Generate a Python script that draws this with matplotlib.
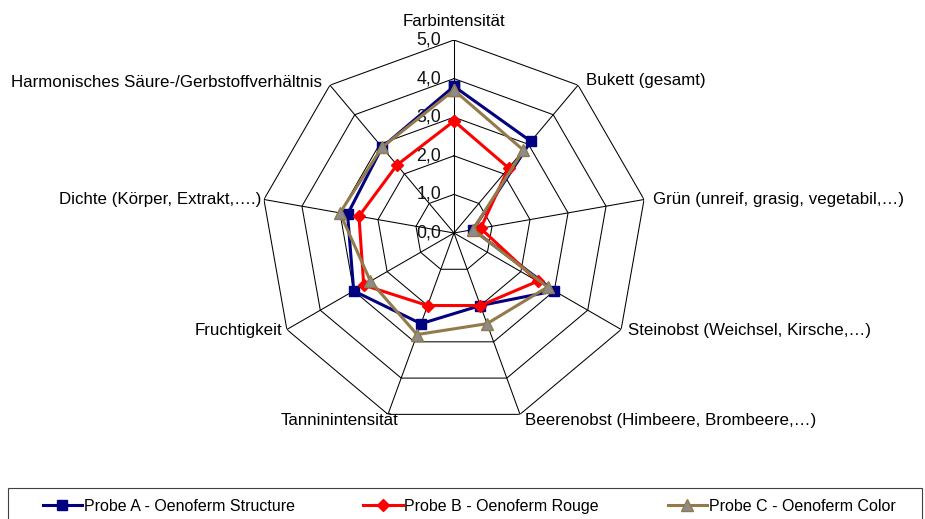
import numpy as np
import matplotlib
matplotlib.use("Agg")
import matplotlib.pyplot as plt
from matplotlib.patches import Rectangle
from matplotlib.transforms import offset_copy

plt.rcParams['font.family'] = ['Liberation Sans', 'DejaVu Sans']
plt.rcParams['font.size'] = 11.5

# axes of the sensory profile (clockwise from top)
categories = ["Farbintensität", "Bukett (gesamt)", "Grün (unreif, grasig, vegetabil,…)",
              "Steinobst (Weichsel, Kirsche,…)", "Beerenobst (Himbeere, Brombeere,…)",
              "Tanninintensität", "Fruchtigkeit", "Dichte (Körper, Extrakt,….)",
              "Harmonisches Säure-/Gerbstoffverhältnis"]
probe_a = [3.8, 3.1, 0.5, 3.0, 2.0, 2.5, 3.0, 2.8, 2.9]
probe_b = [2.9, 2.2, 0.7, 2.5, 2.0, 2.0, 2.7, 2.5, 2.3]
probe_c = [3.7, 2.8, 0.5, 2.8, 2.5, 2.8, 2.5, 3.0, 2.9]
series_names = ["Probe A - Oenoferm Structure", "Probe B - Oenoferm Rouge",
                "Probe C - Oenoferm Color"]
rings = [0, 1, 2, 3, 4, 5]
ring_labels = ["0,0", "1,0", "2,0", "3,0", "4,0", "5,0"]

fig = plt.figure(figsize=(9.25, 5.19), dpi=100)
# center at (454, 233) px, radius 193 px
ax = fig.add_axes([261 / 925, 93 / 519, 386 / 925, 386 / 519], projection='polar')
ax.set_theta_zero_location('N')
ax.set_theta_direction(-1)
ax.set_ylim(0, 5)
ax.grid(False)
ax.set_xticks([])
ax.set_yticks([])
ax.spines['polar'].set_visible(False)
ax.patch.set_alpha(0)

n = len(categories)
angles = np.arange(n) * 2 * np.pi / n
closed = np.append(angles, angles[0])

# polygon grid
for r in rings[1:]:
    ax.plot(closed, [r] * (n + 1), color='black', lw=0.75, zorder=1)
for a in angles:
    ax.plot([a, a], [0, rings[-1]], color='black', lw=0.75, zorder=1)

# radial tick labels
tr = offset_copy(ax.transData, fig=fig, x=-13, y=0, units='dots')
for r, lab in zip(rings, ring_labels):
    ax.text(0, r, lab, transform=tr, ha='right', va='center', color='#111111',
            fontsize=12.8)

# category labels, pixel nudges away from the outer vertex
nudges = [(0, 18), (8, 5), (9, 0), (7, -1), (5, -6), (10, -6), (-5, -1), (-3, 0), (-8, 3)]
for a, lab, (dx, dy) in zip(angles, categories, nudges):
    s = np.sin(a)
    if abs(s) < 1e-6:
        ha = 'center'
    elif s > 0:
        ha = 'left'
    else:
        ha = 'right'
    t = offset_copy(ax.transData, fig=fig, x=dx, y=dy, units='dots')
    ax.text(a, rings[-1], lab, transform=t, ha=ha, va='center', color='black',
            fontsize=12.2)

styles = [
    dict(color='#000080', marker='s', markersize=7.5, mfc='#000080', mec='#000080'),
    dict(color='#ff0000', marker='D', markersize=6, mfc='#ff0000', mec='#ff0000'),
    dict(color='#947a4a', marker='^', markersize=9, mfc='#8c8c8c', mec='#947a4a'),
]
handles = []
for vals, name, st in zip([probe_a, probe_b, probe_c], series_names, styles):
    h, = ax.plot(closed, vals + vals[:1], lw=2.2, label=name, zorder=3, clip_on=False, **st)
    handles.append(h)

# legend box (runs off the bottom edge as in the original)
fig.patches.append(Rectangle((8 / 925, -0.1), 914 / 925, 0.1 + 31.3 / 519,
                             transform=fig.transFigure, fill=False,
                             edgecolor='#404040', lw=0.8))
fig.legend(handles=handles, loc='center left', bbox_to_anchor=(42.7 / 925, 12.5 / 519),
           ncol=3, frameon=False, borderpad=0, borderaxespad=0,
           handlelength=2.45, handletextpad=0.12, columnspacing=4.3)

fig.savefig("out.png", dpi=100)
